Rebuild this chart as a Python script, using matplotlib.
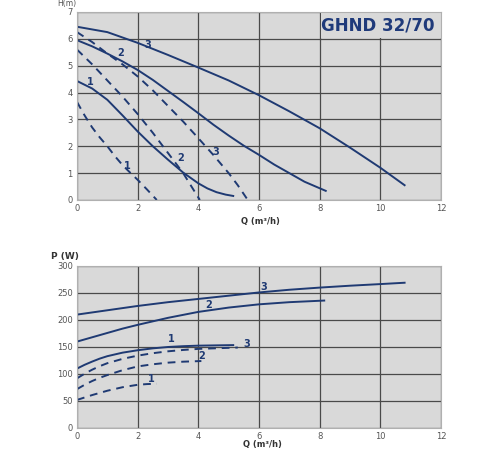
import matplotlib
matplotlib.use('Agg')
import matplotlib.pyplot as plt
from matplotlib.patches import Rectangle
import numpy as np

# curvas H-Q (continuas y discontinuas)
h_q3 = [0, 1, 2, 3, 4, 5, 6, 7, 8, 9, 10, 10.8]
h_h3 = [6.45, 6.25, 5.85, 5.4, 4.93, 4.45, 3.9, 3.3, 2.67, 1.95, 1.2, 0.55]
h_q2 = [0, 0.5, 1, 1.5, 2, 2.5, 3, 3.5, 4, 4.5, 5, 5.5, 6, 6.5, 7, 7.5, 8.2]
h_h2 = [5.95, 5.72, 5.45, 5.16, 4.84, 4.47, 4.06, 3.65, 3.23, 2.8, 2.4, 2.02, 1.68, 1.32, 1.0, 0.68, 0.34]
h_q1 = [0, 0.5, 1, 1.5, 2, 2.5, 3, 3.5, 4, 4.3, 4.6, 4.9, 5.15]
h_h1 = [4.43, 4.15, 3.73, 3.15, 2.55, 2.0, 1.5, 1.02, 0.62, 0.43, 0.29, 0.2, 0.15]
hd_q3 = [0, 0.5, 1, 1.5, 2, 2.5, 3, 3.5, 4, 4.5, 5, 5.3, 5.6]
hd_h3 = [6.25, 5.88, 5.45, 5.05, 4.6, 4.08, 3.5, 2.92, 2.3, 1.67, 1.0, 0.55, 0.05]
hd_q2 = [0, 0.5, 1, 1.5, 2, 2.5, 3, 3.5, 4.05]
hd_h2 = [5.6, 5.05, 4.45, 3.85, 3.2, 2.5, 1.75, 1.0, 0.0]
hd_q1 = [0, 0.25, 0.5, 0.75, 1, 1.25, 1.5, 1.75, 2, 2.3, 2.63]
hd_h1 = [3.65, 3.15, 2.7, 2.33, 2.0, 1.63, 1.3, 1.02, 0.75, 0.4, 0.0]

# curvas P-Q
p_q3 = [0, 1, 2, 3, 4, 5, 6, 7, 8, 9, 10, 10.8]
p_p3 = [210, 218, 226, 233, 239, 245, 251, 256, 260, 263.5, 266.5, 269]
p_q2 = [0, 0.5, 1, 1.5, 2, 3, 4, 5, 6, 7, 8.15]
p_p2 = [160, 168, 176, 184, 191, 204, 215, 223, 229, 233, 236]
p_q1 = [0, 0.25, 0.5, 0.75, 1, 1.5, 2, 2.5, 3, 3.5, 4, 5.15]
p_p1 = [110, 117, 123, 128.5, 133, 139.5, 144, 147.5, 150, 151.5, 152.5, 153.5]
pd_q3 = [0, 0.25, 0.5, 0.75, 1, 1.5, 2, 2.5, 3, 3.5, 4, 5.3]
pd_p3 = [92, 100.5, 108, 114.5, 120, 128, 134, 138.5, 142, 144.5, 146.5, 149]
pd_q2 = [0, 0.25, 0.5, 0.75, 1, 1.5, 2, 2.5, 3, 3.5, 4.1]
pd_p2 = [72, 80, 87, 93, 98, 107, 114, 118, 121, 122.8, 124]
pd_q1 = [0, 0.5, 1, 1.5, 2, 2.3, 2.63]
pd_p1 = [52, 61, 69, 75.5, 80, 81.3, 82]

azul = '#1f3a73'
gris = '#555555'
rejilla = '#4a4a4a'

def estilo(ax, ymax, ystep):
    ax.set_facecolor('#d9d9d9')
    ax.set_xlim(0, 12)
    ax.set_ylim(0, ymax)
    ax.set_xticks(range(0, 13, 2))
    ax.set_yticks(np.arange(0, ymax + 1e-9, ystep))
    ax.grid(True, color=rejilla, lw=0.9)
    ax.set_axisbelow(True)
    for s in ax.spines.values():
        s.set_color('#b0b0b0')
    ax.tick_params(length=0, labelsize=6, colors=gris, pad=3)

fig = plt.figure(figsize=(5, 4.5), dpi=100)
ax1 = fig.add_axes([0.154, 0.5556, 0.728, 0.4178])
ax2 = fig.add_axes([0.154, 0.0489, 0.728, 0.36])

estilo(ax1, 7, 1)
# el cuadro del titulo tapa la rejilla
ax1.add_patch(Rectangle((8.05, 6.03), 4, 1, facecolor='#d9d9d9', edgecolor='none', zorder=0.9))
for q, h in [(h_q3, h_h3), (h_q2, h_h2), (h_q1, h_h1)]:
    ax1.plot(q, h, color=azul, lw=1.4)
for q, h in [(hd_q3, hd_h3), (hd_q2, hd_h2), (hd_q1, hd_h1)]:
    ax1.plot(q, h, color=azul, lw=1.4, ls=(0, (4, 3)))
for x, y, t in [(2.33, 5.78, '3'), (1.44, 5.46, '2'), (0.43, 4.4, '1'),
                (4.58, 1.78, '3'), (3.4, 1.55, '2'), (1.66, 1.28, '1')]:
    ax1.text(x, y, t, color=azul, fontsize=7, fontweight='bold', ha='center', va='center')
ax1.text(9.9, 6.48, 'GHND 32/70', color='#1f3a7a', fontsize=12, fontweight='bold',
         ha='center', va='center')
fig.text(0.134, 0.992, 'H(m)', fontsize=5.5, color=gris, ha='center', va='center')
fig.text(0.52, 0.508, 'Q (m³/h)', fontsize=6, color='#333333', fontweight='bold',
         ha='center', va='center')

estilo(ax2, 300, 50)
for q, p in [(p_q3, p_p3), (p_q2, p_p2), (p_q1, p_p1)]:
    ax2.plot(q, p, color=azul, lw=1.4)
for q, p in [(pd_q3, pd_p3), (pd_q2, pd_p2), (pd_q1, pd_p1)]:
    ax2.plot(q, p, color=azul, lw=1.4, ls=(0, (4, 3)))
for x, y, t in [(6.17, 262, '3'), (4.33, 228, '2'), (3.12, 164, '1'),
                (5.6, 156, '3'), (4.12, 134, '2'), (2.44, 90, '1')]:
    ax2.text(x, y, t, color=azul, fontsize=7, fontweight='bold', ha='center', va='center')
fig.text(0.13, 0.43, 'P (W)', fontsize=6.5, color='#333333', fontweight='bold',
         ha='center', va='center')
fig.text(0.524, 0.0115, 'Q (m³/h)', fontsize=6, color='#333333', fontweight='bold',
         ha='center', va='center')

fig.savefig('out.png', dpi=100)
